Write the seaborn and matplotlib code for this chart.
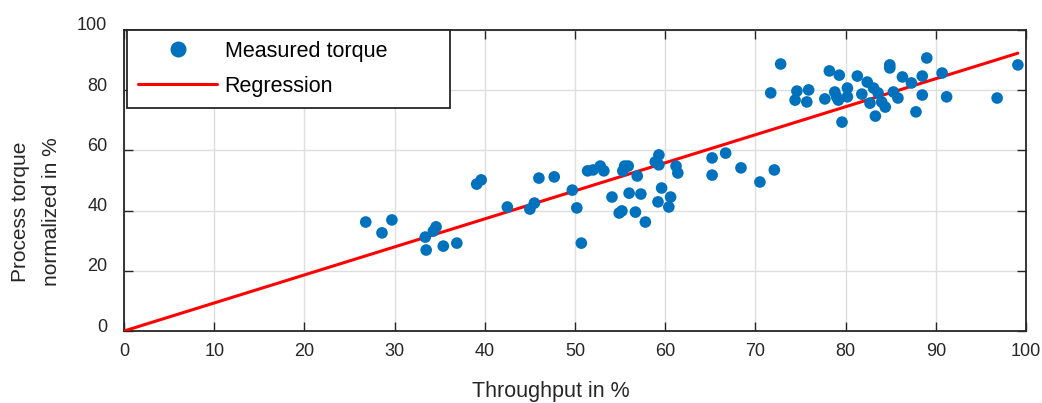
import matplotlib
matplotlib.use("Agg")
import matplotlib.pyplot as plt
import matplotlib.transforms as mtransforms
from matplotlib.lines import Line2D
import numpy as np
import pandas as pd
import seaborn as sns

# Measured operating points: throughput (%) and normalized process torque (%)
throughput = [
    26.8, 28.6, 29.7, 33.4, 33.5, 34.3, 34.6, 35.4, 36.9, 39.1, 39.6, 42.5,
    45.0, 45.5, 46.0, 47.7, 49.7, 50.2, 50.7, 51.4, 52.0, 52.8, 53.2, 54.1,
    54.9, 55.2, 55.3, 55.5, 55.9, 56.0, 56.7, 56.9, 57.3, 57.8, 58.9, 59.3,
    59.3, 59.2, 59.6, 60.6, 60.4, 61.2, 61.4, 65.2, 66.7, 65.2, 68.4, 70.5,
    72.1,
    71.7, 72.8, 74.4, 74.6, 75.7, 75.9, 77.7, 78.2, 78.8, 79.0, 79.3, 79.2,
    79.6, 80.2, 80.2, 81.3, 81.8, 82.4, 82.7, 83.1, 83.3, 83.6, 84.0, 84.4,
    84.9, 84.9, 85.3, 85.8, 86.3, 87.3, 87.8, 88.5, 88.5, 89.0, 90.7, 91.2,
    96.8, 99.1,
]
torque = [
    36.2, 32.6, 36.9, 31.2, 26.9, 33.2, 34.6, 28.2, 29.2, 48.8, 50.2, 41.2,
    40.5, 42.5, 50.8, 51.2, 46.8, 40.9, 29.2, 53.2, 53.5, 54.8, 53.2, 44.5,
    39.2, 39.9, 53.2, 54.8, 54.8, 45.8, 39.5, 51.5, 45.5, 36.2, 56.2, 58.5,
    55.2, 42.9, 47.5, 44.5, 41.2, 54.8, 52.5, 57.5, 59.1, 51.8, 54.2, 49.5,
    53.5,
    79.1, 88.7, 76.7, 79.7, 76.1, 80.1, 77.1, 86.4, 79.4, 77.8, 85.0, 76.7,
    69.4, 80.7, 77.8, 84.7, 78.7, 82.7, 75.7, 80.7, 71.4, 79.1, 76.1, 74.4,
    88.4, 87.4, 79.4, 77.4, 84.4, 82.4, 72.8, 84.7, 78.4, 90.7, 85.7, 77.8,
    77.4, 88.4,
]

# Regression line through the origin
regression_x = [0.0, 99.1]
regression_y = [0.0, 92.3]

x_ticks = [0, 10, 20, 30, 40, 50, 60, 70, 80, 90, 100]
y_ticks = [0, 20, 40, 60, 80, 100]

points = pd.DataFrame({"Throughput": throughput, "Torque": torque})
fit = pd.DataFrame({"Throughput": regression_x, "Torque": regression_y})

sns.set_theme(style="whitegrid")
plt.rcParams["font.family"] = ["Liberation Sans", "DejaVu Sans"]

dot_color = "#0072BD"
line_color = "#FF0000"
frame_color = "#262626"

fig = plt.figure(figsize=(10.42, 4.03), dpi=100)
ax = fig.add_axes([124 / 1042, 1 - 331 / 403, 902 / 1042, 301 / 403])

sns.lineplot(data=fit, x="Throughput", y="Torque", ax=ax, color=line_color,
             linewidth=2.2, zorder=3)
sns.scatterplot(data=points, x="Throughput", y="Torque", ax=ax, color=dot_color,
                s=70, edgecolor="none", linewidth=0, zorder=4)

ax.set_xlim(0, 100)
ax.set_ylim(0, 100)
ax.set_xticks(x_ticks)
ax.set_yticks(y_ticks)
ax.set_xticklabels([str(t) for t in x_ticks])
ax.set_yticklabels([str(t) for t in y_ticks])

ax.grid(True, color="#dedede", linewidth=1.0)
ax.set_facecolor("white")
for side in ["left", "right", "top", "bottom"]:
    ax.spines[side].set_visible(True)
    ax.spines[side].set_color(frame_color)
    ax.spines[side].set_linewidth(1.3)

ax.tick_params(axis="both", which="major", direction="in", length=6.5,
               width=1.0, color=frame_color, labelsize=13,
               labelcolor="#262626", top=True, right=True,
               bottom=True, left=True)
ax.tick_params(axis="x", pad=8.5)
ax.tick_params(axis="y", pad=12)

# Lift the y tick labels slightly above their ticks
lift = mtransforms.ScaledTranslation(0, 6 / 100, fig.dpi_scale_trans)
for lbl in ax.get_yticklabels():
    lbl.set_transform(lbl.get_transform() + lift)

ax.set_xlabel("Throughput in %", fontsize=15.5, color="#262626")
ax.xaxis.set_label_coords((551 - 124) / 902, -(392 - 331) / 301)
ax.xaxis.label.set_va("center")
ax.set_ylabel("")

fig.text(36 / 1042, 1 - 212 / 403, "Process torque\nnormalized in %",
         rotation=90, ha="center", va="center", multialignment="center",
         fontsize=15, color="#262626", linespacing=1.75)

handles = [
    Line2D([], [], linestyle="none", marker="o", markersize=11.5,
           markerfacecolor=dot_color, markeredgecolor="none"),
    Line2D([], [], color=line_color, linewidth=2.2),
]
leg = ax.legend(handles, ["Measured torque", "Regression"],
                loc="upper left",
                bbox_to_anchor=(3 / 902, 1 - 78 / 301, 323 / 902, 78 / 301),
                mode="expand", borderaxespad=0, fontsize=15.5,
                handlelength=3.7, handletextpad=0.33, borderpad=0.5,
                labelspacing=0.65, fancybox=False, framealpha=1,
                edgecolor=frame_color)
leg.get_frame().set_linewidth(1.3)
for t in leg.get_texts():
    t.set_color("black")

fig.savefig("out.png", dpi=100)
